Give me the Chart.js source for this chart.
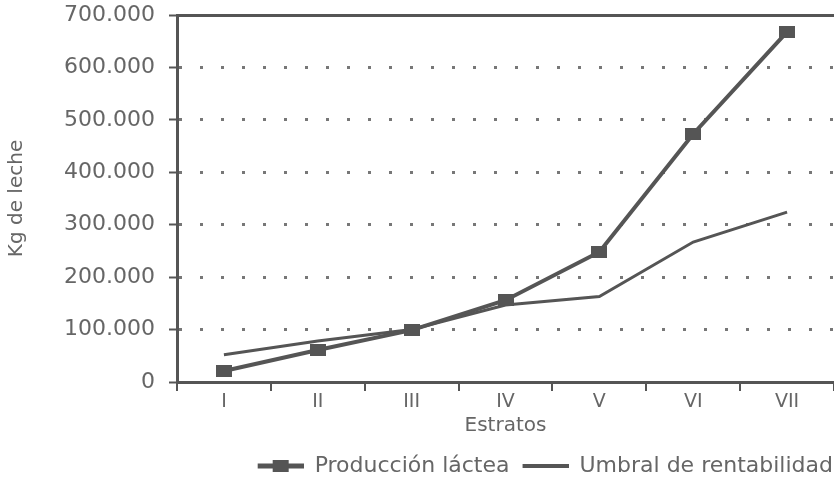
<!DOCTYPE html>
<html>
<head>
<meta charset="utf-8">
<script src="https://cdn.jsdelivr.net/npm/chart.js@4"></script>
<style>
  html, body { margin: 0; padding: 0; background: #fff; overflow: hidden; }
  #wrap { width: 834px; height: 481px; }
</style>
</head>
<body>
<div id="wrap"><canvas id="chart"></canvas></div>
<script>
const estratos = ['I', 'II', 'III', 'IV', 'V', 'VI', 'VII'];
const produccion = [21000, 61000, 99000, 156000, 248000, 473000, 668000];
const umbral = [52000, 78000, 100000, 147000, 163000, 267000, 324000];
const yTicks = [0, 100000, 200000, 300000, 400000, 500000, 600000, 700000];

const lineColor = '#555';
const textColor = '#666';
const font = 'DejaVu Sans';

function fmt(v) {
    return v === 0 ? '0' : String(v).replace(/\B(?=(\d{3})+(?!\d))/g, '.');
}

// square marker used on the production line
function makeSquare() {
    const c = document.createElement('canvas');
    c.width = 16; c.height = 12;
    const g = c.getContext('2d');
    g.fillStyle = lineColor;
    g.fillRect(0, 0, 16, 12);
    return c;
}

// legend symbols (blank margin on the left keeps the items apart)
function makeLegendIcon(withSquare, lw) {
    const c = document.createElement('canvas');
    c.width = 58; c.height = 14;
    const g = c.getContext('2d');
    g.fillStyle = lineColor;
    g.fillRect(12, 7 - lw / 2, 46, lw);
    if (withSquare) g.fillRect(27, 1, 16, 12);
    return c;
}

const square = makeSquare();
const legendIcons = [makeLegendIcon(true, 5), makeLegendIcon(false, 4)];

new Chart(document.getElementById('chart'), {
    type: 'line',
    data: {
        labels: estratos,
        datasets: [{
            label: 'Producción láctea',
            data: produccion,
            borderColor: lineColor,
            backgroundColor: lineColor,
            borderWidth: 4,
            pointStyle: square,
            pointRadius: 8,
            tension: 0
        }, {
            label: 'Umbral de rentabilidad',
            data: umbral,
            borderColor: lineColor,
            backgroundColor: lineColor,
            borderWidth: 3,
            pointRadius: 0,
            tension: 0
        }]
    },
    options: {
        responsive: true,
        maintainAspectRatio: false,
        animation: false,
        layout: { autoPadding: false, padding: { top: 0, right: 0, left: 0, bottom: -6 } },
        plugins: {
            tooltip: { enabled: false },
            legend: {
                position: 'bottom',
                align: 'end',
                labels: {
                    usePointStyle: true,
                    pointStyleWidth: 58,
                    color: textColor,
                    padding: 1,
                    font: { family: font, size: 22 },
                    generateLabels(chart) {
                        const items = Chart.defaults.plugins.legend.labels.generateLabels(chart);
                        items.forEach((it, i) => { it.pointStyle = legendIcons[i]; });
                        return items;
                    }
                }
            }
        },
        scales: {
            x: {
                offset: true,
                grid: {
                    offset: true,
                    drawOnChartArea: false,
                    color: lineColor,
                    tickLength: 9,
                    lineWidth: 2
                },
                border: { color: lineColor, width: 3 },
                ticks: { color: textColor, font: { family: font, size: 19 }, padding: 0 },
                title: {
                    display: true,
                    text: 'Estratos',
                    color: textColor,
                    font: { family: font, size: 20 },
                    padding: { top: 0, bottom: 16 }
                },
                afterFit(scale) { scale.height = 72; }
            },
            y: {
                min: 0,
                max: 700000,
                afterBuildTicks(scale) {
                    const t = [];
                    yTicks.forEach((v, i) => {
                        t.push({ value: v });
                        if (i < yTicks.length - 1) t.push({ value: (v + yTicks[i + 1]) / 2 });
                    });
                    scale.ticks = t;
                },
                grid: {
                    color: ctx => (ctx.tick && ctx.tick.value % 100000 === 0) ? (ctx.tick.value === 700000 ? lineColor : '#777') : 'rgba(0,0,0,0)',
                    lineWidth: 3,
                    tickColor: lineColor,
                    tickLength: 8,
                    tickWidth: 2
                },
                border: {
                    color: lineColor,
                    width: 3,
                    dash: ctx => (ctx.tick && ctx.tick.value === 700000) ? [] : [3, 18]
                },
                ticks: {
                    color: textColor,
                    padding: 14,
                    font: { family: font, size: 22 },
                    callback: v => (v % 100000 === 0 ? fmt(v) : '')
                },
                title: {
                    display: true,
                    text: 'Kg de leche',
                    color: textColor,
                    font: { family: font, size: 20 },
                    padding: { top: 5, bottom: 0 }
                },
                afterFit(scale) {
                    scale.width = 177;
                    scale.paddingTop = 15;
                    scale.paddingBottom = 0;
                }
            }
        }
    }
});
</script>
</body>
</html>
